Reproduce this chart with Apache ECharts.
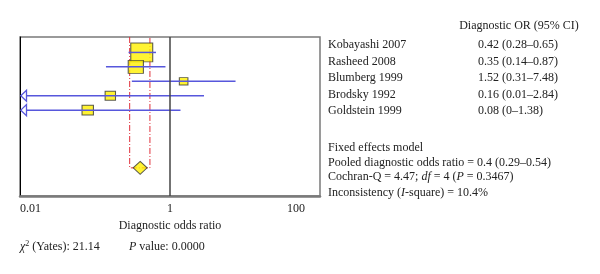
<!DOCTYPE html>
<html>
<head>
<meta charset="utf-8">
<script src="https://cdn.jsdelivr.net/npm/echarts@6/dist/echarts.min.js"></script>
<style>
    html, body { margin: 0; padding: 0; background: #fff; }
    #chart { width: 600px; height: 274px; }
</style>
</head>
<body>
<div id="chart"></div>
<script>
// study data
var studies = ["Kobayashi 2007", "Rasheed 2008", "Blumberg 1999", "Brodsky 1992", "Goldstein 1999"];
var orValues = [0.42, 0.35, 1.52, 0.16, 0.08];
var ciLow = [0.28, 0.14, 0.31, 0.01, 0];
var ciHigh = [0.65, 0.87, 7.48, 2.84, 1.38];
var weights = [47.1, 22.5, 7.2, 10.5, 12.7];
var ciLabels = ["0.42 (0.28\u20130.65)", "0.35 (0.14\u20130.87)", "1.52 (0.31\u20137.48)", "0.16 (0.01\u20132.84)", "0.08 (0\u20131.38)"];
var pooled = [0.4, 0.29, 0.54];
var pooledRow = 8;
var xTicks = [0.01, 1, 100];

var FONT = "Liberation Serif";
var LINE_BLUE = "#5757dc";
var YELLOW = "#fff000";

var chart = echarts.init(document.getElementById("chart"));

var boxData = orValues.map(function (v, i) {
    var s = Math.sqrt(weights[i]);
    return { value: [v, i], symbolSize: [s * 3.2, s * 2.75] };
});
var ciData = orValues.map(function (v, i) {
    return [v, ciLow[i], ciHigh[i], i];
});

function renderCI(params, api) {
    var xMin = 0.01;
    var lo = api.value(1), hi = api.value(2), row = api.value(3);
    var arrow = lo <= xMin;
    var p1 = api.coord([arrow ? xMin : lo, row]);
    var p2 = api.coord([hi, row]);
    var children = [];
    var x1 = p1[0] + (arrow ? 6 : 0);
    children.push({
        type: "line",
        shape: { x1: x1, y1: p1[1], x2: p2[0], y2: p2[1] },
        style: { stroke: LINE_BLUE, lineWidth: 1.5 }
    });
    if (arrow) {
        children.push({
            type: "polygon",
            shape: { points: [[p1[0] + 0.8, p1[1]], [p1[0] + 6.5, p1[1] - 5.5], [p1[0] + 6.5, p1[1] + 5.5]] },
            style: { fill: "#fff", stroke: LINE_BLUE, lineWidth: 1.3 }
        });
    }
    return { type: "group", children: children };
}

function renderPooled(params, api) {
    var top = params.coordSys.y;
    var a = api.coord([api.value(1), api.value(3)]);
    var b = api.coord([api.value(2), api.value(3)]);
    return {
        type: "polyline",
        shape: { points: [[a[0], top], [a[0], a[1]], [b[0], b[1]], [b[0], top]] },
        style: { fill: null, stroke: "#e0303a", lineWidth: 1, lineDash: [6, 2, 1, 2] }
    };
}

var richIt = {
    i: { fontFamily: FONT, fontSize: 12, fontStyle: "italic", fill: "#222" },
    n: { fontFamily: FONT, fontSize: 12, fill: "#222" },
    sup: { fontFamily: FONT, fontSize: 8, fill: "#222", verticalAlign: "top", padding: [0, 0, 6, 0] }
};

var rowY = [45, 61.5, 78, 94.5, 111];
var graphics = [];
graphics.push({ type: "text", x: 519, y: 26, style: { text: "Diagnostic OR (95% CI)", font: "12px '" + FONT + "'", fill: "#222", align: "center", verticalAlign: "middle" } });
studies.forEach(function (s, i) {
    graphics.push({ type: "text", x: 328, y: rowY[i], style: { text: s, font: "12px '" + FONT + "'", fill: "#222", verticalAlign: "middle" } });
    graphics.push({ type: "text", x: 478, y: rowY[i], style: { text: ciLabels[i], font: "12px '" + FONT + "'", fill: "#222", verticalAlign: "middle" } });
});
var footLines = [
    "{n|Fixed effects model}",
    "{n|Pooled diagnostic odds ratio = 0.4 (0.29\u20130.54)}",
    "{n|Cochran-Q = 4.47; }{i|df}{n| = 4 (}{i|P}{n| = 0.3467)}",
    "{n|Inconsistency (}{i|I}{n|-square) = 10.4%}"
];
var footY = [147.5, 162.5, 177, 192.5];
footLines.forEach(function (t, i) {
    graphics.push({ type: "text", x: 328, y: footY[i], style: { text: t, rich: richIt, verticalAlign: "middle" } });
});
graphics.push({ type: "text", x: 20, y: 247, style: { text: "{i|\u03c7}{sup|2}{n| (Yates): 21.14}", rich: richIt, verticalAlign: "middle" } });
graphics.push({ type: "text", x: 129, y: 247, style: { text: "{i|P}{n| value: 0.0000}", rich: richIt, verticalAlign: "middle" } });

var option = {
    animation: false,
    grid: {
        left: 20, right: 280, top: 37, bottom: 78,
        show: true, borderColor: "#7a7a7a", borderWidth: 1.5
    },
    xAxis: {
        type: "log",
        logBase: 10,
        min: 0.01,
        max: 100,
        name: "Diagnostic odds ratio",
        nameLocation: "middle",
        nameGap: 24,
        nameTextStyle: { fontFamily: FONT, fontSize: 12, color: "#222" },
        axisLine: { show: true, onZero: false, lineStyle: { color: "#7a7a7a", width: 2.5 } },
        axisTick: { show: false },
        splitLine: { show: false },
        axisLabel: {
            margin: 7,
            fontFamily: FONT, fontSize: 12, color: "#222",
            showMinLabel: true, showMaxLabel: true,
            alignMinLabel: "left",
            formatter: function (v) {
                var r = Math.round(v * 1000) / 1000;
                if (xTicks.indexOf(r) < 0) return "";
                if (r === 100) return "{mx|100}";
                return String(r);
            },
            rich: { mx: { fontFamily: FONT, fontSize: 12, color: "#222", padding: [0, 48, 0, 0] } }
        }
    },
    yAxis: {
        type: "value",
        inverse: true,
        min: -1.07,
        max: 9.95,
        axisLine: { show: true, onZero: false, lineStyle: { color: "#000", width: 1 } },
        axisTick: { show: false },
        axisLabel: { show: false },
        splitLine: { show: false }
    },
    series: [
        {
            type: "custom",
            renderItem: renderPooled,
            data: [[pooled[0], pooled[1], pooled[2], pooledRow]],
            encode: { x: 0, y: 3 },
            z: 1,
            silent: true
        },
        {
            type: "scatter",
            symbol: "rect",
            data: boxData,
            itemStyle: { color: YELLOW, borderColor: "#333", borderWidth: 1 },
            z: 2,
            markLine: {
                silent: true,
                symbol: "none",
                label: { show: false },
                lineStyle: { color: "#444", width: 1.5, type: "solid" },
                data: [{ xAxis: 1 }]
            }
        },
        {
            type: "custom",
            renderItem: renderCI,
            data: ciData,
            encode: { x: 0, y: 3 },
            z: 3,
            silent: true
        },
        {
            type: "scatter",
            symbol: "diamond",
            symbolSize: [14, 13],
            data: [[pooled[0], pooledRow]],
            itemStyle: { color: YELLOW, borderColor: "#333", borderWidth: 1 },
            z: 4
        }
    ],
    graphic: graphics
};
chart.setOption(option);
</script>
</body>
</html>
